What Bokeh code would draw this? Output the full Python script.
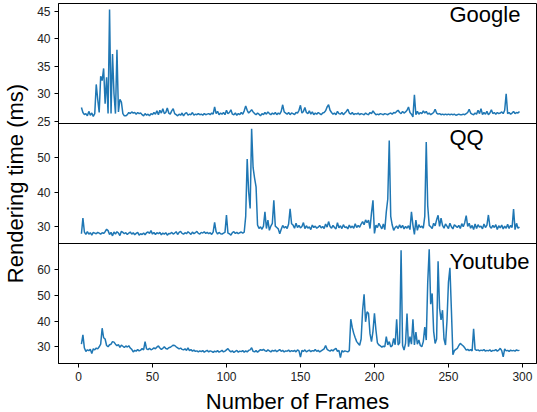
from bokeh.plotting import figure
from bokeh.models import Range1d, FixedTicker, Label, Span, CustomJSTickFormatter
from bokeh.embed import file_html
from bokeh.resources import INLINE

frames = list(range(2, 299))

google = [
    27.5, 26.6, 26.2, 26.4, 26.0, 26.8, 26.1, 26.5, 25.9, 26.4,
    31.7, 29.0, 26.6, 33.2, 32.4, 34.6, 28.2, 33.0, 26.4, 45.3,
    26.4, 37.2, 30.0, 26.4, 38.0, 26.7, 29.0, 28.5, 26.4, 26.0,
    26.0, 26.2, 26.6, 26.4, 26.7, 26.5, 26.6, 26.3, 26.6, 26.4,
    26.5, 26.2, 26.0, 26.4, 26.1, 26.3, 26.0, 26.4, 26.2, 26.6,
    26.3, 26.9, 26.2, 27.0, 26.5, 27.3, 26.4, 26.6, 27.4, 26.5,
    26.3, 26.9, 27.3, 26.4, 26.2, 26.0, 26.3, 26.1, 26.5, 26.0,
    26.4, 26.6, 26.1, 26.3, 26.2, 26.6, 26.1, 26.3, 26.2, 26.4,
    26.2, 26.3, 26.1, 26.4, 26.2, 26.3, 26.4, 26.2, 26.5, 26.3,
    27.6, 26.4, 26.8, 26.2, 26.5, 26.3, 26.6, 26.2, 27.0, 26.4,
    26.6, 27.1, 26.3, 26.2, 26.5, 26.1, 26.4, 26.2, 26.6, 26.3,
    26.9, 27.8, 27.0, 26.5, 26.8, 27.1, 26.7, 26.4, 26.2, 26.5,
    26.3, 26.0, 26.4, 26.2, 26.6, 26.3, 26.7, 26.4, 26.2, 26.5,
    26.3, 26.6, 26.2, 26.5, 26.3, 26.8, 28.0, 26.7, 26.5, 26.3,
    26.6, 26.2, 26.5, 26.4, 26.2, 26.6, 26.5, 27.0, 27.9, 26.5,
    26.8, 27.5, 26.6, 26.4, 26.9, 26.3, 26.7, 26.2, 26.5, 26.3,
    26.6, 26.4, 26.2, 26.5, 26.6, 26.9, 27.6, 28.0, 27.0, 26.6,
    26.3, 26.5, 26.2, 26.8, 26.4, 26.3, 26.6, 26.2, 26.5, 26.8,
    27.2, 26.5, 26.3, 26.6, 26.2, 26.4, 26.3, 26.5, 26.2, 26.4,
    26.3, 26.2, 26.5, 26.3, 26.2, 26.6, 26.4, 26.9, 26.5, 26.2,
    26.3, 26.2, 26.4, 26.3, 26.2, 26.4, 26.3, 26.2, 26.4, 26.5,
    26.3, 26.6, 26.5, 26.8, 27.0, 26.6, 26.4, 26.8, 26.5, 26.7,
    27.0, 27.6, 26.6, 26.3, 25.8, 29.8, 26.2, 26.8, 26.3, 26.6,
    26.4, 26.9, 26.5, 26.8, 26.3, 26.5, 26.2, 26.4, 26.6, 27.2,
    26.5, 26.3, 26.4, 26.2, 26.3, 26.2, 26.3, 26.2, 26.3, 26.2,
    26.3, 26.2, 26.3, 26.1, 26.2, 26.3, 26.2, 26.2, 26.3, 26.2,
    26.4, 26.6, 27.2, 26.5, 26.3, 26.2, 26.5, 26.3, 27.0, 26.4,
    27.3, 26.2, 26.6, 26.3, 26.8, 26.2, 26.5, 27.1, 26.4, 26.6,
    26.3, 26.6, 26.4, 26.5, 26.7, 26.4, 27.0, 30.0, 26.4, 26.6,
    26.3, 26.5, 26.8, 26.4, 26.6, 26.5, 26.8,
]

qq = [
    28.0, 32.5, 28.5, 27.8, 28.6, 27.9, 28.3, 27.6, 28.4, 28.2,
    28.0, 28.4, 28.2, 27.9, 28.3, 28.1, 28.6, 29.3, 28.9, 27.8,
    28.4, 27.4, 28.5, 27.9, 28.6, 28.2, 27.5, 28.7, 28.4, 28.0,
    28.3, 27.8, 28.2, 28.5, 27.9, 28.3, 27.7, 28.1, 28.4, 27.6,
    28.0, 27.8, 28.2, 27.7, 28.3, 28.5, 28.1, 28.9, 27.9, 28.4,
    27.8, 28.3, 28.0, 28.4, 27.7, 28.2, 27.9, 28.3, 27.6, 28.1,
    28.0, 28.4, 27.9, 28.2, 28.6, 27.8, 28.4, 28.7, 28.1, 27.9,
    28.3, 28.0, 28.6, 28.2, 27.8, 28.5, 28.0, 28.3, 28.7, 28.1,
    27.9, 28.4, 28.2, 28.6, 28.1, 28.4, 28.0, 28.3, 27.8, 28.5,
    31.3, 28.6, 27.9, 28.4, 28.0, 27.9, 28.2, 28.4, 33.4, 28.2,
    28.0, 27.6, 28.3, 28.6, 28.1, 28.4, 28.0, 28.3, 28.5, 28.2,
    28.5, 33.0, 49.5, 40.0, 35.3, 58.2, 47.0, 44.0, 41.5, 30.5,
    29.5, 30.0, 29.3, 30.2, 34.3, 29.5, 31.9, 29.0, 30.2, 31.0,
    37.6, 30.2, 29.8, 29.4, 28.0, 29.3, 30.4, 29.7, 30.1, 29.5,
    30.8, 35.2, 30.9, 30.5, 29.6, 31.0, 29.8, 30.4, 29.7, 30.1,
    31.2, 29.5, 30.3, 29.6, 30.0, 29.2, 30.5, 29.8, 30.2, 29.6,
    29.9, 30.4, 29.7, 30.1, 29.5, 30.8, 29.9, 31.5, 30.1, 29.6,
    30.4, 29.8, 29.4, 31.2, 29.7, 30.3, 29.5, 30.6, 29.8, 30.0,
    29.4, 30.5, 29.7, 30.2, 29.6, 30.9, 29.8, 30.4, 29.9, 30.8,
    31.5, 30.6, 32.0, 31.2, 31.9, 29.5, 34.0, 37.6, 28.1, 30.5,
    29.8, 31.0, 30.2, 29.4, 30.8, 29.2, 34.3, 38.0, 54.8, 33.0,
    30.5, 29.0, 29.8, 30.2, 29.5, 30.6, 29.7, 30.4, 29.4, 30.1,
    29.6, 30.3, 29.2, 34.3, 30.5, 27.8, 31.9, 29.0, 30.6, 29.8,
    30.2, 29.6, 33.0, 54.4, 36.0, 30.4, 30.0, 29.5, 31.0, 30.3,
    32.0, 33.3, 30.1, 32.5, 30.4, 29.6, 30.8, 30.2, 29.5, 31.0,
    30.0, 29.4, 30.6, 30.2, 29.8, 30.4, 29.5, 30.9, 30.0, 31.2,
    33.2, 30.1, 31.0, 29.6, 30.4, 29.2, 30.8, 29.5, 30.6, 29.9,
    30.2, 29.4, 30.8, 29.8, 30.5, 33.4, 30.1, 29.6, 30.4, 29.8,
    30.6, 29.2, 30.3, 29.7, 30.5, 29.4, 30.2, 29.6, 30.7, 29.5,
    30.4, 29.8, 35.1, 29.2, 31.0, 29.6, 29.9,
]

youtube = [
    31.0, 34.6, 29.5, 28.2, 28.8, 28.5, 29.0, 27.4, 29.2, 28.8,
    29.5, 29.2, 30.0, 31.0, 37.2, 33.5, 33.0, 30.5, 30.0, 30.8,
    31.0, 32.0, 31.8, 31.0, 30.4, 30.8, 29.8, 30.6, 30.2, 29.7,
    30.3, 29.9, 30.4, 29.5, 29.0, 28.0, 28.6, 28.3, 28.9, 28.4,
    28.7, 29.3, 28.8, 32.0, 29.2, 28.9, 29.4, 28.8, 29.1, 29.6,
    29.2, 29.9, 30.3, 29.5, 29.0, 29.4, 30.0, 29.3, 29.1, 29.6,
    29.8, 30.2, 30.6, 30.5, 30.0, 29.6, 29.2, 29.5, 29.0, 28.8,
    29.2, 28.6, 29.6, 28.5, 28.9, 28.3, 28.7, 28.2, 28.4, 28.0,
    28.4, 28.1, 28.5, 27.9, 28.3, 28.6, 28.0, 28.4, 28.2, 27.8,
    28.3, 28.0, 28.5, 27.9, 28.2, 28.6, 28.0, 28.3, 28.8, 29.3,
    28.5, 28.0, 28.4, 27.8, 28.2, 28.6, 27.9, 28.3, 28.1, 28.5,
    27.9, 28.4, 28.0, 28.6, 28.8, 29.6, 28.2, 28.0, 28.5, 27.9,
    28.4, 28.9, 28.6, 29.0, 28.5, 28.2, 28.8, 28.4, 28.0, 28.6,
    28.3, 28.7, 28.1, 28.5, 28.9, 28.2, 28.6, 28.0, 28.4, 28.3,
    28.7, 28.1, 28.5, 28.2, 28.6, 28.0, 28.8, 28.4, 26.0, 28.6,
    28.2, 28.8, 28.0, 28.4, 28.7, 28.1, 28.5, 28.3, 28.9, 28.2,
    28.6, 28.0, 28.4, 28.8, 29.2, 30.5, 29.0, 28.6, 28.3, 28.8,
    28.4, 29.0, 29.4, 28.2, 28.6, 25.8, 28.5, 28.0, 28.4, 28.2,
    28.0, 28.5, 40.7, 37.5, 35.2, 33.5, 32.0, 31.3, 30.6, 33.0,
    44.2, 50.4, 39.7, 43.6, 42.9, 35.0, 32.0, 36.0, 43.0, 36.5,
    31.5, 30.7, 30.3, 29.9, 30.2, 30.0, 33.9, 30.7, 32.0, 30.0,
    30.4, 33.2, 30.8, 40.7, 30.7, 31.5, 67.5, 30.5, 28.7, 31.3,
    42.9, 30.0, 33.9, 31.0, 40.7, 30.7, 35.7, 31.0, 32.6, 30.5,
    30.0, 32.0, 37.6, 32.6, 55.0, 67.9, 46.5, 50.7, 36.0, 31.3,
    33.0, 63.2, 45.0, 40.4, 44.2, 33.0, 30.7, 40.0, 55.0, 60.7,
    44.2, 26.9, 28.5, 29.0, 29.4, 30.5, 31.3, 30.8, 30.3, 29.6,
    28.7, 29.0, 28.5, 28.9, 28.4, 37.0, 29.0, 28.6, 28.8, 28.4,
    28.7, 28.5, 28.9, 28.3, 28.6, 28.4, 28.8, 28.2, 28.6, 28.5,
    28.9, 28.3, 28.7, 29.4, 28.5, 26.1, 29.2, 28.4, 28.6, 28.2,
    28.7, 28.4, 28.6, 28.3, 28.8, 28.5, 28.6,
]

series_names = ["Google", "QQ", "Youtube"]
x_ticks = [0, 50, 100, 150, 200, 250, 300]
google_ticks = [25, 30, 35, 40, 45]
qq_ticks = [30, 40, 50]
youtube_ticks = [30, 40, 50, 60]

FONT = "Liberation Sans"
LINE_COLOR = "#1f77b4"

# panel view limits (lo, hi) and band index (0 = bottom panel)
panels = [
    ("google", google, (24.6, 46.4), google_ticks, series_names[0], 44.4, 2),
    ("qq", qq, (25.2, 59.7), qq_ticks, series_names[1], 55.8, 1),
    ("youtube", youtube, (23.5, 70.1), youtube_ticks, series_names[2], 63.0, 0),
]

p = figure(
    frame_width=478, frame_height=360,
    x_range=Range1d(-13.5, 309.5), y_range=Range1d(0, 3),
    output_backend="svg", toolbar_location=None,
    min_border_left=58, min_border_right=1,
    min_border_top=3, min_border_bottom=49,
)
p.xgrid.visible = False
p.ygrid.visible = False
p.outline_line_color = "black"
p.outline_line_width = 1
p.background_fill_color = "white"
p.border_fill_color = "white"

tick_pos = []
tick_lab = []
for name, vals, (lo, hi), ticks, title, title_y, k in panels:
    span = hi - lo
    p.extra_y_ranges[name] = Range1d(lo - k * span, hi + (2 - k) * span)
    n = min(len(frames), len(vals))
    p.line(frames[:n], vals[:n], line_color=LINE_COLOR, line_width=1.5,
           y_range_name=name)
    for t in ticks:
        tick_pos.append(k + (t - lo) / span)
        tick_lab.append(str(t))
    p.add_layout(Label(x=250.7, y=title_y, y_range_name=name, text=title,
                       text_font=FONT, text_font_size="22px", text_color="black",
                       text_align="left", text_baseline="alphabetic"))

for loc in (1, 2):
    p.add_layout(Span(location=loc, dimension="width", line_color="black",
                      line_width=1))

for ax in (p.xaxis[0], p.yaxis[0]):
    ax.axis_line_color = "black"
    ax.major_tick_line_color = "black"
    ax.major_tick_out = 4
    ax.major_tick_in = 0
    ax.minor_tick_line_color = None
    ax.major_label_text_font = FONT
    ax.major_label_text_font_size = "12px"
    ax.major_label_text_color = "#222222"
    ax.major_label_standoff = 4
    ax.axis_label_text_font = FONT
    ax.axis_label_text_font_size = "22px"
    ax.axis_label_text_font_style = "normal"
    ax.axis_label_text_color = "black"

p.xaxis.ticker = FixedTicker(ticks=x_ticks)
p.xaxis.axis_label = "Number of Frames"
p.xaxis.axis_label_standoff = 5

p.yaxis.ticker = FixedTicker(ticks=tick_pos)
p.yaxis.formatter = CustomJSTickFormatter(
    args=dict(pos=tick_pos, labs=tick_lab),
    code="""
for (let i = 0; i < pos.length; i++) {
  if (Math.abs(pos[i] - tick) < 1e-6) { return labs[i]; }
}
return "";
""")
p.yaxis.axis_label = "Rendering time (ms)"
p.yaxis.axis_label_standoff = 6

open("out.html", "w").write(file_html(p, INLINE))
